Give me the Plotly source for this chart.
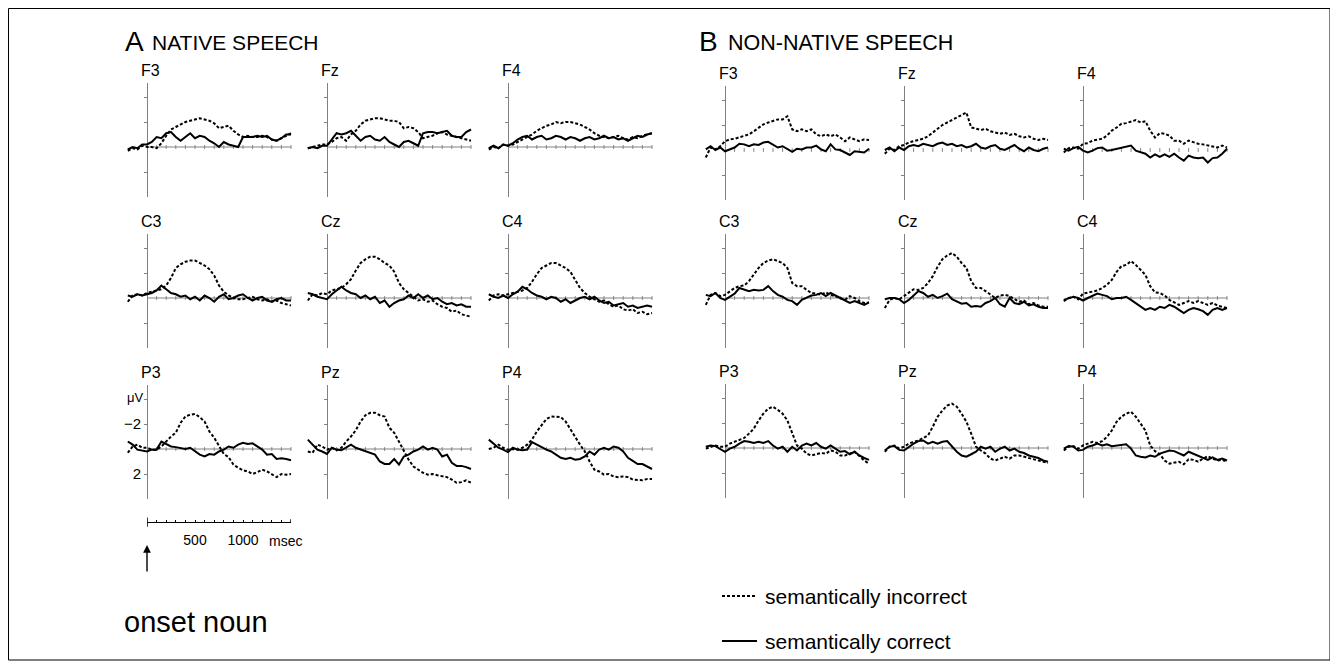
import plotly.graph_objects as go

# ---------------- data (microvolts, negative plotted upward) ----------------
times = list(range(-200, 1501, 50))  # msec

A_F3_inc = [0.3,0.1,0.2,-0.1,0.0,0.0,0.1,-0.3,-0.9,-1.4,-1.6,-1.8,-2.0,-2.1,-2.2,-2.3,-2.2,-2.1,-1.9,-1.5,-1.6,-1.7,-1.3,-1.0,-0.8,-0.9,-0.8,-0.8,-0.9,-0.8,-0.6,-0.5,-0.7,-0.9,-1.1]
A_F3_cor = [0.2,0.0,0.1,-0.2,-0.2,-0.4,-0.8,-0.7,-1.1,-1.2,-0.8,-0.5,-0.8,-1.1,-0.7,-0.9,-0.8,-0.5,-0.3,0.0,-0.4,-0.2,-0.1,0.0,-0.8,-0.8,-0.8,-0.9,-0.8,-0.9,-0.6,-0.5,-0.7,-1.0,-1.0]
A_Fz_inc = [0.1,0.0,-0.1,-0.2,-0.2,-0.4,-0.7,-0.8,-0.5,-1.0,-1.3,-1.8,-2.1,-2.2,-2.3,-2.3,-2.2,-2.1,-2.1,-2.0,-1.5,-1.6,-1.5,-1.2,-0.7,-0.8,-0.9,-1.1,-1.2,-1.0,-0.9,-0.8,-0.7,-0.6,-0.5]
A_Fz_cor = [0.1,0.0,0.1,-0.1,-0.1,-0.6,-1.1,-1.0,-1.1,-1.3,-0.9,-0.5,-0.8,-0.9,-0.6,-0.5,-0.8,-0.4,-0.2,0.0,-0.4,-0.5,-0.3,-0.1,-1.1,-1.2,-1.2,-1.1,-1.2,-1.3,-0.9,-0.8,-0.8,-1.2,-1.4]
A_F4_inc = [0.2,0.0,0.1,-0.2,-0.1,-0.2,-0.4,-0.6,-0.8,-1.0,-1.3,-1.5,-1.7,-1.8,-2.0,-1.9,-2.0,-2.0,-1.9,-1.8,-1.6,-1.4,-1.1,-0.9,-0.8,-0.7,-0.8,-0.9,-0.7,-0.6,-0.8,-0.7,-0.9,-1.0,-1.1]
A_F4_cor = [0.1,-0.1,0.1,-0.2,-0.1,-0.3,-0.6,-0.8,-0.9,-0.6,-0.8,-0.9,-0.6,-0.7,-0.9,-0.8,-0.6,-0.8,-0.7,-0.5,-0.7,-0.8,-0.6,-0.7,-0.9,-0.7,-0.8,-0.6,-0.7,-0.5,-0.7,-0.9,-0.8,-1.0,-1.1]
A_C3_inc = [0.3,-0.2,-0.3,-0.2,-0.4,-0.5,-0.6,-0.7,-1.0,-1.6,-2.4,-2.7,-2.9,-3.0,-3.0,-2.8,-2.6,-2.3,-1.8,-1.0,-0.5,-0.2,0.0,0.1,0.1,0.0,-0.1,0.1,0.2,0.1,0.3,0.2,0.4,0.5,0.6]
A_C3_cor = [-0.2,-0.1,-0.3,-0.2,-0.3,-0.4,-0.6,-1.0,-0.7,-0.4,-0.3,-0.1,-0.2,0.1,-0.1,0.2,-0.2,0.0,0.3,-0.1,-0.3,0.1,0.0,-0.2,-0.3,0.0,0.2,0.0,-0.1,0.2,0.3,0.1,0.0,0.2,0.2]
A_Cz_inc = [0.2,-0.3,-0.2,-0.4,-0.3,-0.6,-0.7,-0.8,-1.1,-1.5,-2.2,-2.8,-3.1,-3.3,-3.3,-3.1,-2.8,-2.6,-2.1,-1.2,-0.7,-0.4,-0.1,0.2,0.1,0.3,0.2,0.5,0.7,0.8,1.1,1.0,1.3,1.4,1.5]
A_Cz_cor = [-0.4,-0.3,-0.1,0.0,0.1,-0.3,-0.6,-0.9,-0.6,-0.4,-0.3,0.0,-0.2,0.1,-0.1,0.4,0.2,0.7,0.4,0.2,0.1,-0.2,0.0,-0.3,0.0,-0.2,0.1,0.0,0.3,0.5,0.4,0.6,0.5,0.7,0.7]
A_C4_inc = [0.2,-0.2,-0.3,-0.2,-0.3,-0.4,-0.5,-0.6,-0.8,-1.3,-1.9,-2.4,-2.6,-2.8,-2.8,-2.6,-2.4,-2.1,-1.5,-0.8,-0.4,-0.1,0.1,0.3,0.2,0.5,0.7,0.6,0.9,1.0,0.9,1.2,1.1,1.3,1.2]
A_C4_cor = [-0.3,-0.1,0.0,-0.2,0.0,-0.3,-0.5,-0.9,-0.7,-0.4,-0.2,-0.1,0.1,-0.1,0.0,0.3,0.1,0.4,0.2,0.0,-0.1,0.1,-0.1,0.2,0.4,0.3,0.6,0.5,0.4,0.7,0.6,0.8,0.7,0.6,0.7]
A_P3_inc = [0.3,-0.2,-0.35,-0.1,-0.1,0.05,0.05,-0.2,-0.6,-1.0,-1.3,-2.1,-2.6,-2.75,-2.8,-2.55,-2.2,-1.4,-0.9,-0.2,0.4,0.65,1.25,1.5,1.7,1.8,2.0,1.85,1.65,1.8,2.05,2.25,2.0,2.05,2.0]
A_P3_cor = [-0.6,-0.35,0.05,0.1,0.2,0.05,0.05,-0.6,-0.4,-0.2,-0.15,-0.1,0.0,-0.1,0.15,0.45,0.6,0.4,0.45,0.2,0.05,-0.2,-0.1,-0.35,-0.5,-0.4,-0.45,-0.2,0.05,0.45,0.4,0.8,0.75,0.8,0.9]
A_Pz_inc = [0.2,0.3,-0.35,-0.2,0.05,-0.1,0.1,-0.1,-0.6,-1.0,-1.5,-2.2,-2.7,-2.9,-2.9,-2.7,-2.6,-1.7,-1.3,-0.6,0.1,0.85,1.4,1.65,1.9,2.05,2.0,2.1,2.2,2.25,2.45,2.7,2.65,2.5,2.7]
A_Pz_cor = [-0.75,-0.35,0.05,0.2,0.4,-0.1,0.05,0.1,-0.1,-0.35,-0.1,0.05,0.2,0.3,0.45,1.0,1.2,1.2,0.8,1.25,0.6,0.45,0.2,0.05,-0.2,0.05,-0.1,0.05,0.6,0.45,1.1,1.35,1.35,1.45,1.6]
A_P4_inc = [0.0,-0.1,-0.35,-0.1,0.05,0.0,0.05,-0.1,-0.35,-0.75,-1.4,-1.95,-2.4,-2.6,-2.6,-2.55,-2.2,-1.55,-1.0,-0.35,0.2,1.0,1.65,1.8,2.05,2.0,2.2,2.25,2.2,2.25,2.45,2.5,2.5,2.4,2.4]
A_P4_cor = [-0.75,-0.4,-0.1,0.05,0.25,-0.1,0.05,0.1,0.05,-0.55,-0.35,-0.1,0.05,0.2,0.45,0.7,0.8,0.7,0.85,0.8,0.6,0.2,0.45,0.05,-0.1,0.05,-0.2,-0.1,0.2,0.7,0.95,1.2,1.2,1.4,1.6]

B_F3_inc = [0.6,-0.2,-0.05,-0.3,-0.7,-0.85,-0.9,-1.0,-1.1,-1.25,-1.5,-1.8,-2.05,-2.2,-2.3,-2.45,-2.45,-2.7,-1.65,-1.5,-1.65,-1.5,-1.65,-1.25,-1.1,-1.25,-1.1,-1.25,-1.0,-0.7,-1.0,-0.85,-0.7,-0.85,-0.8]
B_F3_cor = [-0.05,-0.3,0.0,-0.2,0.1,-0.05,-0.2,-0.5,-0.45,-0.3,-0.45,-0.4,-0.6,-0.65,-0.45,-0.2,-0.3,-0.05,0.15,-0.1,-0.05,-0.2,-0.2,-0.35,-0.05,0.1,-0.45,-0.05,0.0,0.2,0.4,0.1,0.15,0.2,-0.1]
B_Fz_inc = [0.3,-0.1,0.0,-0.3,-0.4,-0.6,-0.7,-0.8,-0.9,-1.1,-1.4,-1.7,-2.0,-2.2,-2.4,-2.6,-2.8,-3.0,-1.8,-1.7,-1.6,-1.7,-1.5,-1.4,-1.3,-1.4,-1.2,-1.3,-1.1,-1.0,-1.1,-0.9,-0.8,-0.9,-0.8]
B_Fz_cor = [0.0,-0.2,0.1,-0.2,0.0,-0.3,-0.4,-0.3,-0.5,-0.4,-0.3,-0.5,-0.6,-0.4,-0.5,-0.3,-0.4,-0.2,-0.3,-0.5,-0.2,-0.1,-0.3,-0.4,-0.1,0.0,-0.2,-0.4,-0.1,0.1,-0.2,0.0,0.1,-0.1,-0.2]
B_F4_inc = [0.2,-0.15,-0.2,-0.1,-0.5,-0.55,-0.75,-0.8,-0.9,-1.15,-1.55,-1.8,-2.1,-2.15,-2.3,-2.4,-2.2,-2.3,-1.55,-1.0,-1.35,-1.3,-1.15,-0.75,-0.75,-0.5,-0.75,-0.6,-0.5,-0.45,-0.35,-0.25,-0.2,-0.35,-0.2]
B_F4_cor = [-0.1,0.05,-0.15,-0.25,0.05,0.2,0.05,-0.15,-0.2,0.05,0.0,-0.1,-0.15,-0.25,-0.35,0.05,0.2,0.3,0.6,0.35,0.55,0.35,0.55,0.3,0.6,0.85,0.45,0.6,0.65,0.6,1.0,0.65,0.6,0.3,-0.1]
B_C3_inc = [0.55,-0.25,-0.4,-0.15,-0.25,-0.55,-0.8,-0.95,-1.0,-1.35,-1.85,-2.4,-2.8,-3.0,-3.1,-2.95,-2.8,-2.4,-1.2,-0.95,-0.95,-0.65,-0.4,-0.35,-0.25,-0.45,-0.25,-0.15,0.0,0.15,-0.15,0.0,0.25,0.4,0.35]
B_C3_cor = [-0.25,-0.15,-0.4,0.0,0.15,-0.1,-0.35,-0.8,-0.65,-0.55,-0.65,-0.6,-0.65,-0.95,-0.55,-0.25,-0.1,0.15,0.25,0.55,0.15,0.0,-0.2,-0.25,-0.4,-0.15,-0.4,-0.2,0.0,0.15,0.4,0.25,0.4,0.55,0.35]
B_Cz_inc = [0.8,0.15,0.0,0.1,-0.15,-0.45,-0.7,-0.65,-0.8,-1.2,-1.75,-2.5,-3.1,-3.4,-3.6,-3.3,-2.8,-2.4,-1.35,-0.8,-0.8,-0.55,-0.25,0.0,-0.2,-0.25,-0.15,0.1,0.3,0.2,0.5,0.4,0.6,0.7,0.7]
B_Cz_cor = [0.1,0.0,0.0,0.1,0.4,0.15,-0.2,-0.55,-0.4,-0.1,-0.25,0.0,-0.15,-0.35,0.1,0.25,0.45,0.4,0.7,0.65,0.7,0.4,0.25,0.0,0.5,0.7,0.0,0.4,0.5,0.3,0.6,0.5,0.7,0.8,0.8]
B_C4_inc = [0.25,0.0,-0.1,0.1,-0.35,-0.45,-0.55,-0.6,-0.8,-1.05,-1.45,-2.1,-2.55,-2.65,-2.95,-2.65,-2.25,-1.85,-0.95,-0.45,-0.4,-0.2,0.15,0.35,0.55,0.4,0.25,0.4,0.25,0.4,0.55,0.4,0.6,0.7,0.8]
B_C4_cor = [0.15,0.0,-0.1,0.0,0.2,0.0,-0.15,-0.35,-0.25,-0.15,0.1,0.0,0.0,-0.1,0.15,0.4,0.65,0.95,0.8,0.95,0.7,0.8,0.55,0.7,0.95,1.2,0.95,0.8,0.9,1.05,1.35,0.95,0.8,0.95,0.8]
B_P3_inc = [0.05,-0.1,-0.2,-0.1,-0.1,-0.35,-0.5,-0.6,-0.8,-1.15,-1.55,-2.2,-2.75,-3.15,-3.3,-3.05,-2.75,-2.2,-1.15,-0.2,0.05,0.45,0.6,0.5,0.4,0.45,0.2,0.3,0.6,0.6,0.45,0.3,0.65,1.0,1.25]
B_P3_cor = [-0.1,-0.2,-0.15,0.05,0.3,0.05,-0.1,-0.35,-0.55,-0.5,-0.4,-0.5,-0.4,-0.55,-0.2,0.05,-0.1,0.3,-0.1,0.2,-0.2,-0.35,-0.2,-0.4,-0.1,0.05,-0.2,0.05,0.3,0.25,0.5,0.3,0.6,0.8,0.95]
B_Pz_inc = [0.3,-0.1,-0.2,0.05,-0.1,-0.35,-0.5,-0.6,-0.8,-1.0,-1.7,-2.5,-3.0,-3.4,-3.55,-3.3,-2.75,-2.1,-1.15,-0.1,0.2,0.45,0.85,1.0,0.85,0.7,0.85,0.6,0.6,0.7,0.8,0.9,1.0,1.1,1.2]
B_Pz_cor = [0.2,-0.1,-0.15,0.15,0.2,-0.1,-0.35,-0.55,-0.6,-0.35,-0.5,-0.35,-0.5,-0.55,-0.1,0.3,0.6,0.7,0.5,0.3,-0.1,0.05,-0.1,0.3,0.05,-0.1,0.2,0.05,0.3,0.4,0.6,0.7,0.8,1.0,1.1]
B_P4_inc = [0.2,-0.1,-0.15,0.05,-0.2,-0.35,-0.5,-0.4,-0.55,-0.9,-1.4,-2.1,-2.5,-2.75,-2.9,-2.5,-1.95,-1.4,-0.2,0.25,0.5,1.0,1.25,1.2,1.1,1.3,0.9,0.95,1.1,0.85,0.65,0.85,1.0,0.95,1.1]
B_P4_cor = [0.05,-0.15,-0.1,0.2,0.15,-0.1,-0.2,-0.35,-0.2,-0.3,-0.15,-0.2,-0.3,-0.3,0.05,0.6,0.7,0.75,0.6,0.7,0.45,0.3,0.2,0.25,0.45,0.6,0.3,0.45,0.65,0.75,0.95,0.75,0.95,0.85,1.0]

y_ticks = [-4, -2, 2]
y_tick_text = ["", "\u22122", "2"]
scale_ticks = list(range(0, 1501, 100))
scale_text = ["500" if t == 500 else "1000" if t == 1000 else "" for t in scale_ticks]

# ---------------- geometry (screen pixels; page body has an 8px margin) ----------------
OFF = 8
W, H = 1330, 660
PX_MS = 0.096
PX_UV = 12.5
XR = [-230, 1530]
Y_TOP, Y_BOT = -5.1, 4.0
FONT = "Liberation Sans, Arial, sans-serif"
AX_COL = "#808080"

def fx(px):
    return (px - OFF) / W

def fy(py):
    return 1 - (py - OFF) / H

A_cols = [147, 327, 508]
B_cols = [725, 904, 1083]
A_rows = [147, 298, 449]
B_rows = [150, 298, 448]

panels = [
    ("F3", A_cols[0], A_rows[0], A_F3_inc, A_F3_cor, False, False),
    ("Fz", A_cols[1], A_rows[0], A_Fz_inc, A_Fz_cor, False, False),
    ("F4", A_cols[2], A_rows[0], A_F4_inc, A_F4_cor, False, False),
    ("C3", A_cols[0], A_rows[1], A_C3_inc, A_C3_cor, False, False),
    ("Cz", A_cols[1], A_rows[1], A_Cz_inc, A_Cz_cor, False, False),
    ("C4", A_cols[2], A_rows[1], A_C4_inc, A_C4_cor, False, False),
    ("P3", A_cols[0], A_rows[2], A_P3_inc, A_P3_cor, True, False),
    ("Pz", A_cols[1], A_rows[2], A_Pz_inc, A_Pz_cor, False, False),
    ("P4", A_cols[2], A_rows[2], A_P4_inc, A_P4_cor, False, False),
    ("F3", B_cols[0], B_rows[0], B_F3_inc, B_F3_cor, False, True),
    ("Fz", B_cols[1], B_rows[0], B_Fz_inc, B_Fz_cor, False, True),
    ("F4", B_cols[2], B_rows[0], B_F4_inc, B_F4_cor, False, True),
    ("C3", B_cols[0], B_rows[1], B_C3_inc, B_C3_cor, False, False),
    ("Cz", B_cols[1], B_rows[1], B_Cz_inc, B_Cz_cor, False, False),
    ("C4", B_cols[2], B_rows[1], B_C4_inc, B_C4_cor, False, False),
    ("P3", B_cols[0], B_rows[2], B_P3_inc, B_P3_cor, False, False),
    ("Pz", B_cols[1], B_rows[2], B_Pz_inc, B_Pz_cor, False, False),
    ("P4", B_cols[2], B_rows[2], B_P4_inc, B_P4_cor, False, False),
]

fig = go.Figure()
layout = {}
annotations = []

def txt(text, x, y, size, xanchor="left", xref="paper"):
    return dict(text=text, x=x, y=fy(y), xref=xref, yref="paper", xanchor=xanchor,
                yanchor="middle", showarrow=False, font=dict(size=size, family=FONT, color="black"))

for i, (name, x0, base, inc, cor, show_lbl, dotted) in enumerate(panels, start=1):
    sfx = "" if i == 1 else str(i)
    xref, yref = "x" + sfx, "y" + sfx
    layout["xaxis" + sfx] = dict(
        domain=[fx(x0 + XR[0] * PX_MS), fx(x0 + XR[1] * PX_MS)],
        range=XR, visible=False, anchor=yref, fixedrange=True,
    )
    layout["yaxis" + sfx] = dict(
        domain=[fy(base + Y_BOT * PX_UV), fy(base + Y_TOP * PX_UV)],
        range=[Y_BOT, Y_TOP], anchor="free", position=fx(x0),
        showline=True, linecolor=AX_COL, linewidth=1,
        ticks="outside", tickvals=y_ticks, ticktext=y_tick_text,
        ticklen=3, tickcolor=AX_COL, tickwidth=1,
        showticklabels=show_lbl, tickfont=dict(size=15, color="black", family=FONT),
        showgrid=False, zeroline=False, layer="below traces", fixedrange=True,
    )
    bx, by = [], []
    if not dotted:
        bx += [0, 1500, None]
        by += [0, 0, None]
    for t in scale_ticks[1:]:
        bx += [t, t, None]
        by += [-0.15, 0.15, None]
    fig.add_trace(go.Scatter(x=bx, y=by, mode="lines", xaxis=xref, yaxis=yref,
                             line=dict(color=AX_COL, width=1), hoverinfo="skip", showlegend=False))
    fig.add_trace(go.Scatter(x=times[:len(inc)], y=inc, mode="lines", xaxis=xref, yaxis=yref,
                             name="semantically incorrect", showlegend=False,
                             line=dict(color="black", width=2, dash="3px,2px")))
    fig.add_trace(go.Scatter(x=times[:len(cor)], y=cor, mode="lines", xaxis=xref, yaxis=yref,
                             name="semantically correct", showlegend=False,
                             line=dict(color="black", width=2)))
    annotations.append(txt(name, fx(x0 - 8), base - 77, 16))

# scale bar subplot
n = len(panels) + 1
sfx = str(n)
layout["xaxis" + sfx] = dict(
    domain=[fx(147), fx(147 + 1500 * PX_MS)], range=[0, 1500], anchor="free", position=fy(522),
    showline=True, linecolor="black", linewidth=1.3, ticks="inside", tickvals=scale_ticks,
    ticktext=scale_text, ticklen=2, tickcolor="black", tickwidth=1,
    tickfont=dict(size=14, family=FONT, color="black"), ticklabelstandoff=5,
    showgrid=False, zeroline=False, fixedrange=True,
)
layout["yaxis" + sfx] = dict(domain=[fy(530), fy(514)], range=[-1, 1], visible=False, anchor="x" + sfx,
                             fixedrange=True)
fig.add_trace(go.Scatter(x=[0, 0, None, 1500, 1500], y=[-0.6, 0.55, None, 0, 0.35], mode="lines",
                         xaxis="x" + sfx, yaxis="y" + sfx, line=dict(color="black", width=1.5),
                         hoverinfo="skip", showlegend=False))
annotations.append(txt("msec", 1440, 541, 14, xanchor="center", xref="x" + sfx))
annotations.append(dict(text="", x=0, y=fy(545), xref="x" + sfx, yref="paper",
                        ax=0, ay=28, showarrow=True, arrowhead=2, arrowsize=1.1,
                        arrowwidth=1.4, arrowcolor="black"))
annotations.append(txt("onset noun", fx(122), 622, 29))
annotations.append(txt("\u03bcV", fx(145), 397, 13, xanchor="right"))
# titles
annotations.append(txt("A", fx(123), 41, 28))
annotations.append(txt("NATIVE SPEECH", fx(150), 43, 21))
annotations.append(txt("B", fx(697), 41, 28))
annotations.append(txt("NON-NATIVE SPEECH", fx(726), 43, 21.5))
# legend
annotations.append(txt("semantically incorrect", fx(763), 596, 21))
annotations.append(txt("semantically correct", fx(763), 641, 21))

shapes = [
    dict(type="line", xref="paper", yref="paper", x0=fx(722), x1=fx(757), y0=fy(596), y1=fy(596),
         line=dict(color="black", width=2, dash="3px,2px")),
    dict(type="line", xref="paper", yref="paper", x0=fx(722), x1=fx(757), y0=fy(641), y1=fy(641),
         line=dict(color="black", width=2)),
    dict(type="rect", xref="paper", yref="paper", x0=fx(8.5), x1=fx(1330), y0=fy(660), y1=fy(8.5),
         line=dict(color="black", width=1)),
]

fig.update_layout(
    width=W, height=H, margin=dict(l=0, r=0, t=0, b=0),
    paper_bgcolor="white", plot_bgcolor="white",
    font=dict(family=FONT, color="black"),
    annotations=annotations, shapes=shapes, showlegend=False,
    **layout,
)

fig.write_html("out.html")
